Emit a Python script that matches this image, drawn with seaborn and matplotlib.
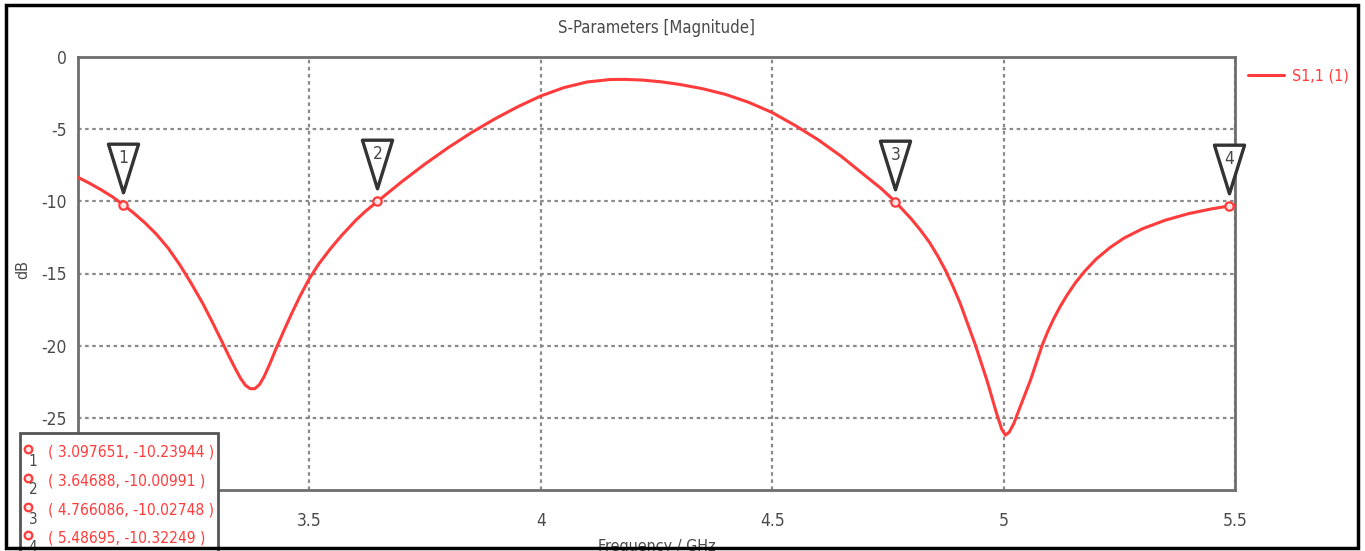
import matplotlib
matplotlib.use("Agg")
import matplotlib.pyplot as plt
import numpy as np
import pandas as pd
import seaborn as sns
from matplotlib.path import Path
from matplotlib.patches import Rectangle
from matplotlib.transforms import offset_copy

# S11 magnitude sweep (GHz, dB)
freq_ghz = [3.000, 3.025, 3.050, 3.075, 3.097651, 3.120, 3.145, 3.170, 3.195, 3.220,
            3.245, 3.270, 3.290, 3.310, 3.325, 3.340, 3.352, 3.362, 3.372, 3.382,
            3.392, 3.402, 3.414, 3.428, 3.445, 3.462, 3.480, 3.500, 3.520, 3.545,
            3.570, 3.600, 3.620, 3.64688, 3.700, 3.750, 3.800, 3.850, 3.900, 3.950,
            4.000, 4.050, 4.100, 4.150, 4.180, 4.220, 4.260, 4.300, 4.350, 4.400,
            4.450, 4.500, 4.550, 4.600, 4.650, 4.700, 4.735, 4.766086, 4.800, 4.820,
            4.840, 4.857, 4.874, 4.890, 4.906, 4.939, 4.964, 4.984, 4.996, 5.004,
            5.012, 5.022, 5.035, 5.058, 5.083, 5.095, 5.108, 5.122, 5.137, 5.155,
            5.175, 5.200, 5.230, 5.260, 5.300, 5.350, 5.400, 5.450, 5.48695, 5.500]
s11_db = [-8.34, -8.75, -9.20, -9.70, -10.23944, -10.80, -11.50, -12.30, -13.25, -14.40,
          -15.70, -17.10, -18.35, -19.65, -20.65, -21.60, -22.30, -22.75, -22.98, -22.98,
          -22.70, -22.15, -21.30, -20.20, -18.95, -17.75, -16.55, -15.35, -14.35, -13.30,
          -12.35, -11.32, -10.72, -10.00991, -8.63, -7.41, -6.28, -5.24, -4.30, -3.45,
          -2.70, -2.12, -1.73, -1.56, -1.55, -1.60, -1.72, -1.90, -2.20, -2.60,
          -3.15, -3.85, -4.75, -5.75, -6.90, -8.20, -9.10, -10.02748, -11.20, -11.98,
          -12.85, -13.75, -14.75, -15.85, -17.05, -19.95, -22.40, -24.60, -25.80, -26.20,
          -26.00, -25.40, -24.30, -22.40, -20.00, -19.05, -18.15, -17.30, -16.50, -15.65,
          -14.85, -14.00, -13.20, -12.55, -11.90, -11.30, -10.85, -10.52, -10.32249, -10.27]

# Markers placed on the trace
marker_ids = ["1", "2", "3", "4"]
marker_freq = [3.097651, 3.64688, 4.766086, 5.48695]
marker_db = [-10.23944, -10.00991, -10.02748, -10.32249]

x_ticks = [3.5, 4.0, 4.5, 5.0, 5.5]
x_tick_labels = ["3.5", "4", "4.5", "5", "5.5"]
y_ticks = [0, -5, -10, -15, -20, -25]
y_tick_labels = ["0", "-5", "-10", "-15", "-20", "-25"]

title = "S-Parameters [Magnitude]"
x_label = "Frequency / GHz"
y_label = "dB"
trace_label = "S1,1 (1)"

RED = "#ff3b3b"
GREY_TXT = "#4a4a4a"
W, H = 1365, 551

sns.set_style("white")
plt.rcParams["font.family"] = ["DejaVu Sans"]
plt.rcParams["font.stretch"] = "condensed"

fig = plt.figure(figsize=(W / 100, H / 100), dpi=100)
ax = fig.add_axes([78 / W, 1 - 490 / H, (1235 - 78) / W, (490 - 57) / H])

df = pd.DataFrame({"freq": freq_ghz, "db": s11_db})
sns.lineplot(data=df, x="freq", y="db", ax=ax, color=RED, lw=2.2,
             label=trace_label, zorder=4)

ax.set_xlim(3.0, 5.5)
ax.set_ylim(-30, 0)
ax.set_xticks(x_ticks)
ax.set_xticklabels(x_tick_labels)
ax.set_yticks(y_ticks)
ax.set_yticklabels(y_tick_labels)
ax.tick_params(axis="x", length=0, pad=16, labelsize=12.5, labelcolor=GREY_TXT)
ax.tick_params(axis="y", length=0, pad=8, labelsize=12.5, labelcolor=GREY_TXT)
ax.grid(True, color="#8a8a8a", linestyle=(0, (1.6, 1.6)), lw=1.6)
for s in ax.spines.values():
    s.set_color("#6e6e6e")
    s.set_linewidth(2)

ax.set_title(title, fontsize=12, color=GREY_TXT, pad=17)
ax.set_xlabel(x_label, fontsize=11.5, color=GREY_TXT)
ax.xaxis.set_label_coords(0.5, -(539 - 490) / (490 - 57))
ax.set_ylabel(y_label, fontsize=11.5, color=GREY_TXT)
ax.yaxis.set_label_coords(-(78 - 30) / (1235 - 78), (490 - 270) / (490 - 57))

# Marker points on the curve
ax.plot(marker_freq, marker_db, "o", ms=6, mfc="#ffe6e6", mec=RED, mew=1.6,
        zorder=6, clip_on=False)

# Inverted triangle flags above each marker
tri = Path([(-0.62, 1.0), (0.62, 1.0), (0.0, -1.0), (-0.62, 1.0)],
           [Path.MOVETO, Path.LINETO, Path.LINETO, Path.CLOSEPOLY])
tri_tr = offset_copy(ax.transData, fig=fig, x=0, y=37, units="dots")
num_tr = offset_copy(ax.transData, fig=fig, x=0, y=47, units="dots")
ax.plot(marker_freq, marker_db, linestyle="none", marker=tri, ms=35,
        mfc="white", mec="#333333", mew=2.4, transform=tri_tr, zorder=7,
        clip_on=False)
for mid, fx, dy in zip(marker_ids, marker_freq, marker_db):
    ax.text(fx, dy, mid, transform=num_tr, ha="center", va="center",
            fontsize=12.5, color=GREY_TXT, zorder=8)

leg = ax.legend(loc="upper left", bbox_to_anchor=(1.002, 1.0), frameon=False,
                handlelength=2.2, handletextpad=0.5, fontsize=11.5,
                borderaxespad=0.3)
for t in leg.get_texts():
    t.set_color(RED)

# Marker readout box in the lower left corner
fig.add_artist(Rectangle((20 / W, -0.02), 198 / W, (H - 433) / H + 0.02,
                         transform=fig.transFigure, fc="white", ec="#555555",
                         lw=2, zorder=10))
row_px = [452, 481, 510, 538]
for mid, fx, dy, ypx in zip(marker_ids, marker_freq, marker_db, row_px):
    fy = 1 - ypx / H
    fig.text(48 / W, fy, f"( {fx:.7g}, {dy:.7g} )", fontsize=11.2, color=RED,
             va="center", ha="left", zorder=11)
    fig.add_artist(plt.Line2D([28 / W], [fy + 3 / H], marker="o", ms=5.5,
                              mfc="#ffe6e6", mec=RED, mew=1.6,
                              transform=fig.transFigure, zorder=11))
    fig.text(33 / W, fy - 9 / H, mid, fontsize=11, color=GREY_TXT,
             va="center", ha="center", zorder=12)

# Outer frame
fig.add_artist(Rectangle((6 / W, 1 - 548 / H), (1358 - 6) / W, (548 - 5) / H,
                         transform=fig.transFigure, fill=False, ec="black",
                         lw=2.5, zorder=20))

fig.savefig("out.png", dpi=100)
